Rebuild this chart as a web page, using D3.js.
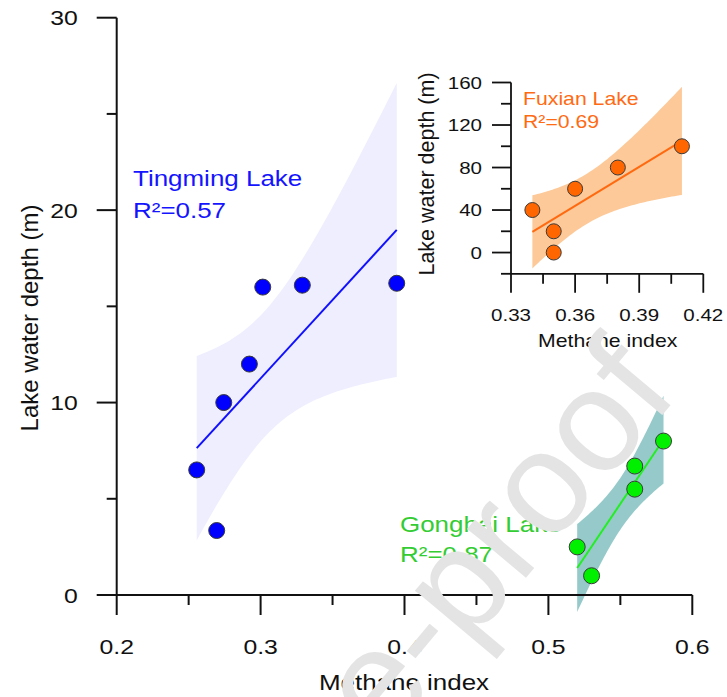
<!DOCTYPE html>
<html>
<head>
<meta charset="utf-8">
<script src="https://cdn.jsdelivr.net/npm/d3@7"></script>
<style>
  body { margin: 0; background: #fff; }
</style>
</head>
<body>
<div id="chart"></div>
<script>
// Tingming Lake (main plot)
const tingX = [0.2556, 0.2695, 0.2744, 0.2922, 0.3015, 0.329, 0.3946];
const tingY = [6.5, 3.35, 10.0, 12.0, 16.0, 16.1, 16.2];
// Gonghai Lake (main plot)
const gongX = [0.52, 0.53, 0.56, 0.56, 0.58];
const gongY = [2.5, 1.0, 5.5, 6.7, 8.0];
// Fuxian Lake (inset)
const fuxX = [0.34, 0.35, 0.35, 0.36, 0.38, 0.41];
const fuxY = [40, 20, 0, 60, 80, 100];

const mainXTicks = [0.2, 0.3, 0.4, 0.5, 0.6];
const mainXMinor = [0.25, 0.35, 0.45, 0.55];
const mainYTicks = [0, 10, 20, 30];
const mainYMinor = [5, 15, 25];
const insetXTicks = [0.33, 0.36, 0.39, 0.42];
const insetXMinor = [0.345, 0.375, 0.405];
const insetYTicks = [0, 40, 80, 120, 160];
const insetYMinor = [-20, 20, 60, 100, 140];

const width = 727, height = 697;
const SX = 1.18; // the figure is a bit wider than tall, text looks stretched

const svg = d3.select("#chart").append("svg")
    .attr("width", width)
    .attr("height", height)
    .attr("viewBox", `0 0 ${width} ${height}`);

const FONT = "Liberation Sans, Arial, sans-serif";

// simple OLS fit + confidence band
function fit(xs, ys) {
    const n = xs.length, mx = d3.mean(xs), my = d3.mean(ys);
    let sxy = 0, sxx = 0;
    xs.forEach((x, i) => { sxy += (x - mx) * (ys[i] - my); sxx += (x - mx) ** 2; });
    const b = sxy / sxx, a = my - b * mx;
    let sse = 0;
    xs.forEach((x, i) => { sse += (ys[i] - a - b * x) ** 2; });
    return { a, b, mx, sxx, n, s: Math.sqrt(sse / (n - 2)) };
}
function bandPts(f, t, x0, x1) {
    return d3.range(0, 61).map(i => {
        const x = x0 + (x1 - x0) * i / 60;
        const y = f.a + f.b * x;
        const h = t * f.s * Math.sqrt(1 / f.n + (x - f.mx) ** 2 / f.sxx);
        return { x, lo: y - h, hi: y + h };
    });
}

function stretchText(g, x, y, txt, size, color, anchor) {
    return g.append("text")
        .attr("transform", `translate(${x},${y}) scale(${SX},1)`)
        .attr("text-anchor", anchor || "start")
        .style("font-family", FONT)
        .style("font-size", size + "px")
        .style("fill", color)
        .text(txt);
}

function drawSeries(g, xs, ys, xScale, yScale, t, style) {
    const f = fit(xs, ys);
    const x0 = d3.min(xs), x1 = d3.max(xs);
    const area = d3.area()
        .x(d => xScale(d.x))
        .y0(d => yScale(d.lo))
        .y1(d => yScale(d.hi));
    g.append("path")
        .datum(bandPts(f, t, x0, x1))
        .attr("d", area)
        .attr("fill", style.band);
    g.append("line")
        .attr("x1", xScale(x0)).attr("y1", yScale(f.a + f.b * x0))
        .attr("x2", xScale(x1)).attr("y2", yScale(f.a + f.b * x1))
        .attr("stroke", style.line)
        .attr("stroke-width", 2);
    g.selectAll(null)
        .data(xs.map((x, i) => [x, ys[i]]))
        .enter().append("circle")
        .attr("cx", d => xScale(d[0]))
        .attr("cy", d => yScale(d[1]))
        .attr("r", style.r)
        .attr("fill", style.dot)
        .attr("stroke", "#3a3a3a")
        .attr("stroke-width", 1);
}

function drawAxes(g, xScale, yScale, opt) {
    const [xa, xb] = xScale.range();
    const [ya, yb] = yScale.range();
    const axis = g.append("g").attr("stroke", "#111").attr("stroke-width", opt.sw);
    axis.append("line").attr("x1", xa).attr("x2", xb).attr("y1", ya).attr("y2", ya);
    axis.append("line").attr("x1", xa).attr("x2", xa).attr("y1", ya).attr("y2", yScale(opt.yTicks[opt.yTicks.length - 1]));
    opt.xTicks.forEach(v => axis.append("line").attr("x1", xScale(v)).attr("x2", xScale(v)).attr("y1", ya).attr("y2", ya + opt.major));
    opt.xMinor.forEach(v => axis.append("line").attr("x1", xScale(v)).attr("x2", xScale(v)).attr("y1", ya).attr("y2", ya + opt.minor));
    opt.yTicks.forEach(v => axis.append("line").attr("y1", yScale(v)).attr("y2", yScale(v)).attr("x1", xa).attr("x2", xa - opt.major));
    opt.yMinor.forEach(v => axis.append("line").attr("y1", yScale(v)).attr("y2", yScale(v)).attr("x1", xa).attr("x2", xa - opt.minor));

    opt.xTicks.forEach(v => stretchText(g, xScale(v), ya + opt.xLabelDy, opt.xFmt(v), opt.font, "#111", "middle"));
    opt.yTicks.forEach(v => stretchText(g, xa - opt.yLabelDx, yScale(v) + opt.font * 0.36, String(v), opt.font, "#111", "end"));
}

// ---------- main plot ----------
const x = d3.scaleLinear().domain([0.2, 0.6]).range([116.7, 692.3]);
const y = d3.scaleLinear().domain([0, 30]).range([595, 17.7]);
const main = svg.append("g");

drawSeries(main, tingX, tingY, x, y, 2.34, { band: "#eeeeff", line: "#1010ff", dot: "#0000ff", r: 8 });
drawSeries(main, gongX, gongY, x, y, 2.5, { band: "#96caca", line: "#22ee22", dot: "#00f000", r: 8 });

drawAxes(main, x, y, {
    xTicks: mainXTicks, xMinor: mainXMinor, yTicks: mainYTicks, yMinor: mainYMinor,
    major: 20, minor: 10, sw: 2, font: 21, xLabelDy: 59, yLabelDx: 39,
    xFmt: d3.format(".1f")
});

stretchText(main, 404, 690, "Methane index", 22, "#111", "middle");
main.append("text")
    .attr("transform", "translate(38,318) rotate(-90)")
    .attr("text-anchor", "middle")
    .style("font-family", FONT)
    .style("font-size", "24px")
    .style("fill", "#111")
    .text("Lake water depth (m)");

stretchText(main, 133, 186, "Tingming Lake", 22, "#1414ff");
stretchText(main, 133, 218, "R²=0.57", 22, "#1414ff");
stretchText(main, 400, 532, "Gonghai Lake", 22, "#33cc33");
stretchText(main, 400, 562, "R²=0.87", 22, "#33cc33");

// ---------- inset ----------
const ix = d3.scaleLinear().domain([0.33, 0.42]).range([511, 703.3]);
const iy = d3.scaleLinear().domain([-20, 160]).range([273.8, 82.5]);
const inset = svg.append("g");

drawSeries(inset, fuxX, fuxY, ix, iy, 2.6, { band: "#fdc999", line: "#ff6a10", dot: "#ff6600", r: 7.5 });

drawAxes(inset, ix, iy, {
    xTicks: insetXTicks, xMinor: insetXMinor, yTicks: insetYTicks, yMinor: insetYMinor,
    major: 19, minor: 10, sw: 1.8, font: 17.4, xLabelDy: 47.5, yLabelDx: 29,
    xFmt: d3.format(".2f")
});

stretchText(inset, 607.7, 346.7, "Methane index", 18, "#111", "middle");
inset.append("text")
    .attr("transform", "translate(434,174) rotate(-90)")
    .attr("text-anchor", "middle")
    .style("font-family", FONT)
    .style("font-size", "21.5px")
    .style("fill", "#111")
    .text("Lake water depth (m)");

stretchText(inset, 523, 105, "Fuxian Lake", 18, "#ff6a13");
stretchText(inset, 523, 128, "R²=0.69", 18, "#ff6a13");

// ---------- watermark ----------
svg.append("text")
    .attr("transform", "translate(680,394) rotate(-50)")
    .attr("text-anchor", "end")
    .style("font-family", FONT)
    .style("font-size", "145px")
    .style("fill", "#e4e4e4")
    .text("Journal Pre-proof");
</script>
</body>
</html>
